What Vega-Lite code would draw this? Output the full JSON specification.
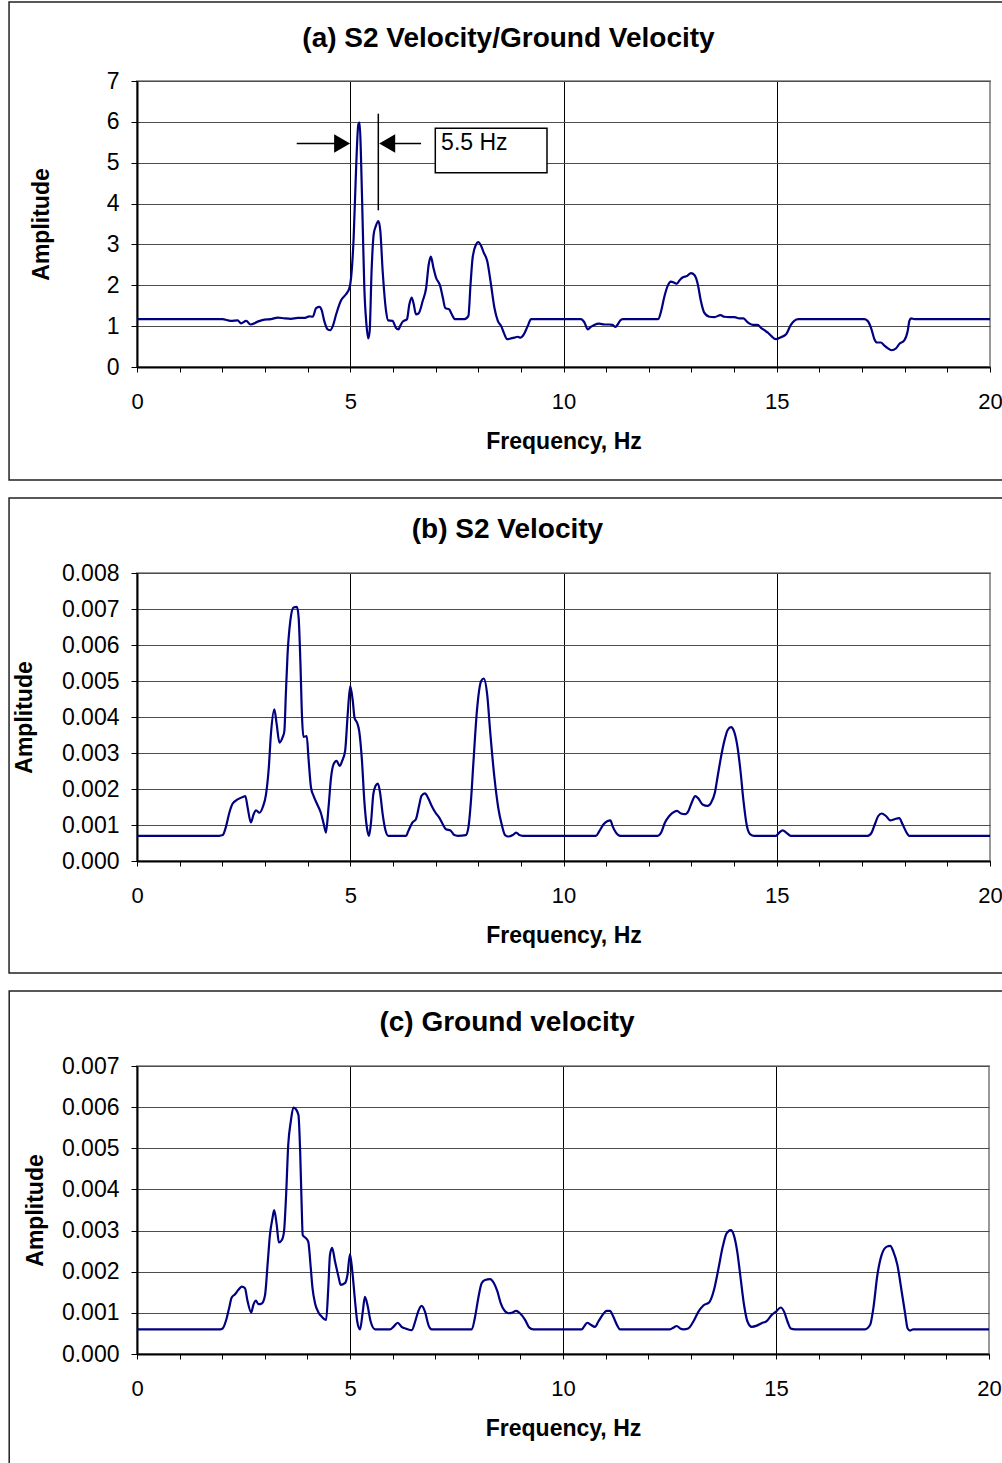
{
  "$schema": "https://vega.github.io/schema/vega-lite/v6.json",
  "background": "white",
  "padding": {"left": 7, "top": 0, "right": 0, "bottom": 0},
  "spacing": 14,
  "config": {
    "view": {"stroke": "#999999", "strokeWidth": 2},
    "font": "Liberation Sans",
    "axis": {"labelFont": "Liberation Sans", "titleFont": "Liberation Sans", "labelColor": "black", "titleColor": "black", "labelFontSize": 22, "titleFontSize": 23, "titleFontWeight": "bold", "tickColor": "black", "domainColor": "black", "domainWidth": 2},
    "axisY": {"labelFontSize": 23, "labelOverlap": false},
    "title": {"font": "Liberation Sans", "fontSize": 28, "fontWeight": "bold", "color": "black", "anchor": "middle"}
  },
  "datasets": {
    "a": [
      {"f":0,"v":1.17},{"f":2.0,"v":1.17},{"f":2.2,"v":1.13},{"f":2.36,"v":1.14},{"f":2.44,"v":1.07},{"f":2.56,"v":1.13},{"f":2.66,"v":1.04},{"f":2.83,"v":1.11},{"f":2.99,"v":1.16},{"f":3.14,"v":1.17},{"f":3.30,"v":1.21},{"f":3.46,"v":1.19},{"f":3.61,"v":1.18},{"f":3.77,"v":1.20},{"f":3.92,"v":1.20},{"f":4.04,"v":1.24},{"f":4.12,"v":1.23},{"f":4.20,"v":1.44},{"f":4.28,"v":1.47},{"f":4.33,"v":1.39},{"f":4.39,"v":1.13},{"f":4.47,"v":0.92},{"f":4.53,"v":0.90},{"f":4.59,"v":1.00},{"f":4.67,"v":1.29},{"f":4.78,"v":1.62},{"f":4.90,"v":1.78},{"f":4.98,"v":1.93},{"f":5.02,"v":2.19},{"f":5.08,"v":3.17},{"f":5.135,"v":4.80},{"f":5.19,"v":5.94},{"f":5.22,"v":5.98},{"f":5.25,"v":5.21},{"f":5.29,"v":3.57},{"f":5.33,"v":1.94},{"f":5.38,"v":1.04},{"f":5.42,"v":0.70},{"f":5.455,"v":0.88},{"f":5.50,"v":2.35},{"f":5.55,"v":3.25},{"f":5.60,"v":3.45},{"f":5.66,"v":3.57},{"f":5.705,"v":3.33},{"f":5.76,"v":2.35},{"f":5.84,"v":1.37},{"f":5.89,"v":1.14},{"f":5.99,"v":1.13},{"f":6.07,"v":0.96},{"f":6.13,"v":0.92},{"f":6.17,"v":1.00},{"f":6.23,"v":1.11},{"f":6.33,"v":1.17},{"f":6.385,"v":1.53},{"f":6.44,"v":1.70},{"f":6.49,"v":1.53},{"f":6.54,"v":1.29},{"f":6.60,"v":1.31},{"f":6.70,"v":1.62},{"f":6.78,"v":1.94},{"f":6.84,"v":2.51},{"f":6.89,"v":2.70},{"f":6.95,"v":2.43},{"f":7.01,"v":2.19},{"f":7.11,"v":1.98},{"f":7.17,"v":1.70},{"f":7.23,"v":1.44},{"f":7.32,"v":1.41},{"f":7.38,"v":1.29},{"f":7.46,"v":1.17},{"f":7.68,"v":1.17},{"f":7.77,"v":1.25},{"f":7.82,"v":2.02},{"f":7.87,"v":2.68},{"f":7.95,"v":3.00},{"f":8.00,"v":3.06},{"f":8.07,"v":2.96},{"f":8.13,"v":2.80},{"f":8.21,"v":2.60},{"f":8.30,"v":2.02},{"f":8.38,"v":1.45},{"f":8.46,"v":1.13},{"f":8.54,"v":1.00},{"f":8.60,"v":0.84},{"f":8.68,"v":0.68},{"f":8.77,"v":0.70},{"f":8.85,"v":0.72},{"f":8.93,"v":0.74},{"f":8.99,"v":0.72},{"f":9.07,"v":0.80},{"f":9.16,"v":1.00},{"f":9.24,"v":1.17},{"f":10.41,"v":1.17},{"f":10.49,"v":1.09},{"f":10.57,"v":0.92},{"f":10.64,"v":0.98},{"f":10.72,"v":1.03},{"f":10.84,"v":1.06},{"f":10.96,"v":1.04},{"f":11.07,"v":1.04},{"f":11.15,"v":1.03},{"f":11.22,"v":0.98},{"f":11.27,"v":1.04},{"f":11.33,"v":1.14},{"f":11.39,"v":1.17},{"f":12.22,"v":1.17},{"f":12.29,"v":1.37},{"f":12.36,"v":1.70},{"f":12.44,"v":1.98},{"f":12.52,"v":2.09},{"f":12.60,"v":2.06},{"f":12.66,"v":2.04},{"f":12.72,"v":2.12},{"f":12.79,"v":2.19},{"f":12.90,"v":2.23},{"f":12.99,"v":2.30},{"f":13.07,"v":2.25},{"f":13.15,"v":2.02},{"f":13.22,"v":1.62},{"f":13.30,"v":1.33},{"f":13.42,"v":1.23},{"f":13.54,"v":1.22},{"f":13.68,"v":1.27},{"f":13.77,"v":1.23},{"f":13.89,"v":1.22},{"f":14.01,"v":1.22},{"f":14.12,"v":1.19},{"f":14.22,"v":1.19},{"f":14.32,"v":1.09},{"f":14.44,"v":1.03},{"f":14.55,"v":1.03},{"f":14.63,"v":0.96},{"f":14.71,"v":0.90},{"f":14.79,"v":0.84},{"f":14.87,"v":0.76},{"f":14.98,"v":0.68},{"f":15.10,"v":0.73},{"f":15.22,"v":0.80},{"f":15.33,"v":1.03},{"f":15.41,"v":1.13},{"f":15.51,"v":1.17},{"f":17.05,"v":1.17},{"f":17.13,"v":1.13},{"f":17.21,"v":0.96},{"f":17.29,"v":0.68},{"f":17.35,"v":0.60},{"f":17.44,"v":0.60},{"f":17.52,"v":0.53},{"f":17.60,"v":0.46},{"f":17.69,"v":0.41},{"f":17.80,"v":0.46},{"f":17.87,"v":0.56},{"f":17.99,"v":0.65},{"f":18.07,"v":0.88},{"f":18.11,"v":1.13},{"f":18.15,"v":1.19},{"f":18.23,"v":1.17},{"f":20,"v":1.17}
    ],
    "b": [
      {"f":0,"v":0.0007},{"f":1.93,"v":0.0007},{"f":2.01,"v":0.00072},{"f":2.09,"v":0.00097},{"f":2.165,"v":0.00134},{"f":2.24,"v":0.00159},{"f":2.36,"v":0.00171},{"f":2.48,"v":0.00178},{"f":2.54,"v":0.0018},{"f":2.595,"v":0.00148},{"f":2.67,"v":0.00107},{"f":2.735,"v":0.0013},{"f":2.79,"v":0.00141},{"f":2.87,"v":0.00134},{"f":2.95,"v":0.0015},{"f":3.025,"v":0.00185},{"f":3.09,"v":0.00259},{"f":3.14,"v":0.00352},{"f":3.22,"v":0.00421},{"f":3.275,"v":0.0038},{"f":3.34,"v":0.00329},{"f":3.415,"v":0.00344},{"f":3.455,"v":0.00361},{"f":3.49,"v":0.00463},{"f":3.53,"v":0.00574},{"f":3.595,"v":0.00667},{"f":3.67,"v":0.00704},{"f":3.75,"v":0.00706},{"f":3.79,"v":0.00676},{"f":3.83,"v":0.00556},{"f":3.87,"v":0.00398},{"f":3.90,"v":0.00345},{"f":3.98,"v":0.00347},{"f":4.02,"v":0.00287},{"f":4.08,"v":0.00204},{"f":4.14,"v":0.00181},{"f":4.22,"v":0.00159},{"f":4.31,"v":0.00134},{"f":4.38,"v":0.00102},{"f":4.43,"v":0.00079},{"f":4.49,"v":0.00148},{"f":4.55,"v":0.00232},{"f":4.61,"v":0.00269},{"f":4.68,"v":0.00278},{"f":4.75,"v":0.00264},{"f":4.81,"v":0.00278},{"f":4.88,"v":0.00306},{"f":4.94,"v":0.00407},{"f":5.00,"v":0.00486},{"f":5.06,"v":0.00444},{"f":5.10,"v":0.00398},{"f":5.16,"v":0.00384},{"f":5.21,"v":0.00361},{"f":5.275,"v":0.00278},{"f":5.33,"v":0.00167},{"f":5.39,"v":0.00093},{"f":5.44,"v":0.0007},{"f":5.49,"v":0.00111},{"f":5.54,"v":0.00185},{"f":5.59,"v":0.00208},{"f":5.65,"v":0.00215},{"f":5.705,"v":0.00185},{"f":5.76,"v":0.0013},{"f":5.82,"v":0.00088},{"f":5.89,"v":0.0007},{"f":6.31,"v":0.0007},{"f":6.36,"v":0.00083},{"f":6.46,"v":0.00107},{"f":6.54,"v":0.00116},{"f":6.62,"v":0.00157},{"f":6.67,"v":0.00181},{"f":6.75,"v":0.00188},{"f":6.83,"v":0.00174},{"f":6.91,"v":0.00153},{"f":7.00,"v":0.00134},{"f":7.09,"v":0.0012},{"f":7.17,"v":0.00102},{"f":7.245,"v":0.00088},{"f":7.35,"v":0.00085},{"f":7.44,"v":0.00072},{"f":7.52,"v":0.0007},{"f":7.71,"v":0.00072},{"f":7.77,"v":0.00093},{"f":7.83,"v":0.00167},{"f":7.89,"v":0.00278},{"f":7.97,"v":0.00417},{"f":8.07,"v":0.005},{"f":8.13,"v":0.00507},{"f":8.21,"v":0.00463},{"f":8.28,"v":0.00361},{"f":8.38,"v":0.00232},{"f":8.47,"v":0.00148},{"f":8.55,"v":0.00102},{"f":8.63,"v":0.00072},{"f":8.71,"v":0.00068},{"f":8.81,"v":0.00072},{"f":8.89,"v":0.00079},{"f":8.965,"v":0.00072},{"f":9.04,"v":0.0007},{"f":10.76,"v":0.0007},{"f":10.84,"v":0.00083},{"f":10.94,"v":0.00102},{"f":11.035,"v":0.00111},{"f":11.10,"v":0.00113},{"f":11.15,"v":0.00097},{"f":11.23,"v":0.00079},{"f":11.33,"v":0.0007},{"f":12.21,"v":0.0007},{"f":12.29,"v":0.00079},{"f":12.38,"v":0.00107},{"f":12.48,"v":0.00125},{"f":12.60,"v":0.00137},{"f":12.66,"v":0.00139},{"f":12.755,"v":0.00132},{"f":12.85,"v":0.0013},{"f":12.93,"v":0.00139},{"f":13.005,"v":0.00162},{"f":13.09,"v":0.0018},{"f":13.16,"v":0.00174},{"f":13.26,"v":0.00157},{"f":13.38,"v":0.00153},{"f":13.46,"v":0.00162},{"f":13.55,"v":0.0019},{"f":13.61,"v":0.00232},{"f":13.69,"v":0.00287},{"f":13.77,"v":0.00333},{"f":13.85,"v":0.00364},{"f":13.93,"v":0.00372},{"f":13.99,"v":0.00363},{"f":14.07,"v":0.00324},{"f":14.15,"v":0.0025},{"f":14.22,"v":0.00167},{"f":14.30,"v":0.00097},{"f":14.38,"v":0.00074},{"f":14.47,"v":0.0007},{"f":14.98,"v":0.0007},{"f":15.06,"v":0.00079},{"f":15.14,"v":0.00085},{"f":15.22,"v":0.00079},{"f":15.33,"v":0.0007},{"f":17.13,"v":0.0007},{"f":17.225,"v":0.00079},{"f":17.30,"v":0.00102},{"f":17.38,"v":0.00125},{"f":17.46,"v":0.00132},{"f":17.56,"v":0.00125},{"f":17.66,"v":0.00113},{"f":17.76,"v":0.00116},{"f":17.87,"v":0.00119},{"f":17.95,"v":0.00102},{"f":18.03,"v":0.00082},{"f":18.11,"v":0.0007},{"f":20,"v":0.0007}
    ],
    "c": [
      {"f":0,"v":0.0006},{"f":1.95,"v":0.0006},{"f":2.01,"v":0.00062},{"f":2.105,"v":0.00087},{"f":2.17,"v":0.00115},{"f":2.22,"v":0.00137},{"f":2.30,"v":0.00145},{"f":2.38,"v":0.00156},{"f":2.46,"v":0.00164},{"f":2.535,"v":0.0016},{"f":2.59,"v":0.00131},{"f":2.68,"v":0.00101},{"f":2.73,"v":0.00119},{"f":2.79,"v":0.0013},{"f":2.85,"v":0.00121},{"f":2.93,"v":0.00123},{"f":3.005,"v":0.00143},{"f":3.07,"v":0.00224},{"f":3.12,"v":0.00289},{"f":3.18,"v":0.0033},{"f":3.22,"v":0.0035},{"f":3.28,"v":0.00314},{"f":3.33,"v":0.00271},{"f":3.40,"v":0.00277},{"f":3.45,"v":0.00297},{"f":3.50,"v":0.00386},{"f":3.55,"v":0.00508},{"f":3.61,"v":0.00565},{"f":3.67,"v":0.00599},{"f":3.73,"v":0.00595},{"f":3.79,"v":0.00581},{"f":3.83,"v":0.00492},{"f":3.865,"v":0.00362},{"f":3.89,"v":0.00289},{"f":3.97,"v":0.00281},{"f":4.02,"v":0.00273},{"f":4.08,"v":0.00208},{"f":4.12,"v":0.0016},{"f":4.18,"v":0.00123},{"f":4.26,"v":0.00101},{"f":4.335,"v":0.00091},{"f":4.44,"v":0.00083},{"f":4.49,"v":0.0016},{"f":4.53,"v":0.00241},{"f":4.58,"v":0.00258},{"f":4.65,"v":0.00224},{"f":4.73,"v":0.00188},{"f":4.78,"v":0.00168},{"f":4.88,"v":0.00172},{"f":4.94,"v":0.00192},{"f":5.00,"v":0.00243},{"f":5.055,"v":0.002},{"f":5.12,"v":0.00127},{"f":5.17,"v":0.00079},{"f":5.235,"v":0.0006},{"f":5.30,"v":0.00103},{"f":5.35,"v":0.00139},{"f":5.41,"v":0.00119},{"f":5.485,"v":0.00079},{"f":5.59,"v":0.0006},{"f":5.94,"v":0.0006},{"f":6.02,"v":0.00066},{"f":6.12,"v":0.00076},{"f":6.21,"v":0.00066},{"f":6.33,"v":0.00061},{"f":6.45,"v":0.00058},{"f":6.53,"v":0.00079},{"f":6.60,"v":0.00103},{"f":6.68,"v":0.00117},{"f":6.76,"v":0.00103},{"f":6.84,"v":0.00071},{"f":6.92,"v":0.0006},{"f":7.86,"v":0.0006},{"f":7.93,"v":0.00087},{"f":8.01,"v":0.00135},{"f":8.09,"v":0.00172},{"f":8.17,"v":0.0018},{"f":8.29,"v":0.00182},{"f":8.38,"v":0.00172},{"f":8.46,"v":0.00152},{"f":8.54,"v":0.00123},{"f":8.615,"v":0.00107},{"f":8.72,"v":0.00099},{"f":8.795,"v":0.001},{"f":8.90,"v":0.00105},{"f":8.99,"v":0.00099},{"f":9.11,"v":0.00083},{"f":9.21,"v":0.00064},{"f":9.30,"v":0.0006},{"f":10.44,"v":0.0006},{"f":10.49,"v":0.00066},{"f":10.57,"v":0.00076},{"f":10.65,"v":0.00071},{"f":10.75,"v":0.00066},{"f":10.83,"v":0.00079},{"f":10.93,"v":0.00095},{"f":11.025,"v":0.00105},{"f":11.10,"v":0.00105},{"f":11.18,"v":0.00091},{"f":11.26,"v":0.00072},{"f":11.34,"v":0.0006},{"f":12.51,"v":0.0006},{"f":12.59,"v":0.00064},{"f":12.67,"v":0.00068},{"f":12.75,"v":0.00062},{"f":12.83,"v":0.0006},{"f":12.94,"v":0.00062},{"f":13.06,"v":0.00079},{"f":13.18,"v":0.00103},{"f":13.295,"v":0.00118},{"f":13.435,"v":0.00126},{"f":13.545,"v":0.00156},{"f":13.65,"v":0.00208},{"f":13.75,"v":0.00261},{"f":13.84,"v":0.00293},{"f":13.94,"v":0.00301},{"f":14.01,"v":0.00289},{"f":14.09,"v":0.00249},{"f":14.17,"v":0.00184},{"f":14.25,"v":0.00119},{"f":14.33,"v":0.00079},{"f":14.43,"v":0.00066},{"f":14.55,"v":0.00069},{"f":14.66,"v":0.00075},{"f":14.78,"v":0.0008},{"f":14.90,"v":0.00095},{"f":15.00,"v":0.00103},{"f":15.11,"v":0.00113},{"f":15.19,"v":0.00103},{"f":15.27,"v":0.00079},{"f":15.345,"v":0.00062},{"f":15.45,"v":0.0006},{"f":17.09,"v":0.0006},{"f":17.21,"v":0.00071},{"f":17.285,"v":0.00111},{"f":17.38,"v":0.00192},{"f":17.48,"v":0.00241},{"f":17.60,"v":0.00261},{"f":17.68,"v":0.00263},{"f":17.755,"v":0.00249},{"f":17.85,"v":0.00216},{"f":17.95,"v":0.00152},{"f":18.03,"v":0.00099},{"f":18.09,"v":0.00062},{"f":18.15,"v":0.00057},{"f":18.22,"v":0.0006},{"f":20,"v":0.0006}
    ]
  },
  "vconcat": [
    {
      "width": 853, "height": 286,
      "title": {"text": "(a) S2 Velocity/Ground Velocity", "dx": -55, "offset": -80, "baseline": "bottom"},
      "layer": [
        {
          "data": {"name": "a"},
          "mark": {"type": "line", "color": "#000080", "strokeWidth": 2.2, "interpolate": "monotone"},
          "encoding": {
            "x": {"field": "f", "type": "quantitative", "scale": {"domain": [0, 20], "nice": false},
              "axis": {"title": "Frequency, Hz", "values": [0,1,2,3,4,5,6,7,8,9,10,11,12,13,14,15,16,17,18,19,20], "tickCount": 40, "format": "d", "labelExpr": "datum.value % 5 === 0 ? datum.label : ''", "labelFlush": false, "labelOverlap": false, "labelPadding": 19, "tickSize": 5, "grid": true, "gridColor": "black", "gridWidth": 1, "gridOpacity": {"condition": {"test": "datum.value % 5 === 0 && datum.value > 0 && datum.value < 20", "value": 1}, "value": 0}, "titlePadding": 18}},
            "y": {"field": "v", "type": "quantitative", "scale": {"domain": [0, 7], "nice": false},
              "axis": {"title": "Amplitude", "values": [0,1,2,3,4,5,6,7], "tickCount": 20, "format": "d", "labelOverlap": false, "labelPadding": 12, "tickSize": 6, "grid": true, "gridColor": "#4d4d4d", "titlePadding": 53}}
          }
        },
        {
          "data": {"values": [{}]},
          "mark": {"type": "rect", "fill": "white", "fillOpacity": 0, "stroke": "#222222", "strokeWidth": 1.5},
          "encoding": {
            "x": {"datum": -3.0, "type": "quantitative", "scale": {"domain": [0, 20], "nice": false}},
            "x2": {"datum": 20.6},
            "y": {"datum": -2.766, "type": "quantitative", "scale": {"domain": [0, 7], "nice": false}},
            "y2": {"datum": 8.934}
          }
        },
        {
          "data": {"values": [{}]},
          "mark": {"type": "rule", "color": "black", "strokeWidth": 1.5},
          "encoding": {
            "x": {"datum": 3.745, "type": "quantitative", "scale": {"domain": [0, 20], "nice": false}},
            "x2": {"datum": 4.75},
            "y": {"datum": 5.47, "type": "quantitative", "scale": {"domain": [0, 7], "nice": false}}
          }
        },
        {
          "data": {"values": [{}]},
          "mark": {"type": "rule", "color": "black", "strokeWidth": 1.5},
          "encoding": {
            "x": {"datum": 5.95, "type": "quantitative", "scale": {"domain": [0, 20], "nice": false}},
            "x2": {"datum": 6.66},
            "y": {"datum": 5.47, "type": "quantitative", "scale": {"domain": [0, 7], "nice": false}}
          }
        },
        {
          "data": {"values": [{}]},
          "mark": {"type": "rule", "color": "black", "strokeWidth": 1.5},
          "encoding": {
            "x": {"datum": 5.658, "type": "quantitative", "scale": {"domain": [0, 20], "nice": false}},
            "y": {"datum": 3.835, "type": "quantitative", "scale": {"domain": [0, 7], "nice": false}},
            "y2": {"datum": 6.2}
          }
        },
        {
          "data": {"values": [{}]},
          "mark": {"type": "point", "shape": "triangle-right", "filled": true, "color": "black", "size": 340, "opacity": 1},
          "encoding": {
            "x": {"datum": 4.809, "type": "quantitative", "scale": {"domain": [0, 20], "nice": false}},
            "y": {"datum": 5.47, "type": "quantitative", "scale": {"domain": [0, 7], "nice": false}}
          }
        },
        {
          "data": {"values": [{}]},
          "mark": {"type": "point", "shape": "triangle-left", "filled": true, "color": "black", "size": 340, "opacity": 1},
          "encoding": {
            "x": {"datum": 5.866, "type": "quantitative", "scale": {"domain": [0, 20], "nice": false}},
            "y": {"datum": 5.47, "type": "quantitative", "scale": {"domain": [0, 7], "nice": false}}
          }
        },
        {
          "data": {"values": [{}]},
          "mark": {"type": "rect", "fill": "white", "stroke": "black", "strokeWidth": 1.5},
          "encoding": {
            "x": {"datum": 6.994, "type": "quantitative", "scale": {"domain": [0, 20], "nice": false}},
            "x2": {"datum": 9.613},
            "y": {"datum": 4.756, "type": "quantitative", "scale": {"domain": [0, 7], "nice": false}},
            "y2": {"datum": 5.842}
          }
        },
        {
          "data": {"values": [{"label": "5.5 Hz"}]},
          "mark": {"type": "text", "align": "left", "baseline": "middle", "fontSize": 23, "font": "Liberation Sans", "color": "black"},
          "encoding": {
            "x": {"datum": 7.13, "type": "quantitative", "scale": {"domain": [0, 20], "nice": false}},
            "y": {"datum": 5.48, "type": "quantitative", "scale": {"domain": [0, 7], "nice": false}},
            "text": {"field": "label"}
          }
        }
      ]
    },
    {
      "width": 853, "height": 288,
      "title": {"text": "(b) S2 Velocity", "dx": -56, "offset": -75, "baseline": "bottom"},
      "layer": [
        {
          "data": {"name": "b"},
          "mark": {"type": "line", "color": "#000080", "strokeWidth": 2.2, "interpolate": "monotone"},
          "encoding": {
            "x": {"field": "f", "type": "quantitative", "scale": {"domain": [0, 20], "nice": false},
              "axis": {"title": "Frequency, Hz", "values": [0,1,2,3,4,5,6,7,8,9,10,11,12,13,14,15,16,17,18,19,20], "tickCount": 40, "format": "d", "labelExpr": "datum.value % 5 === 0 ? datum.label : ''", "labelFlush": false, "labelOverlap": false, "labelPadding": 19, "tickSize": 5, "grid": true, "gridColor": "black", "gridWidth": 1, "gridOpacity": {"condition": {"test": "datum.value % 5 === 0 && datum.value > 0 && datum.value < 20", "value": 1}, "value": 0}, "titlePadding": 18}},
            "y": {"field": "v", "type": "quantitative", "scale": {"domain": [0, 0.008], "nice": false},
              "axis": {"title": "Amplitude", "values": [0,0.001,0.002,0.003,0.004,0.005,0.006,0.007,0.008], "tickCount": 20, "format": ".3f", "labelOverlap": false, "labelPadding": 12, "tickSize": 6, "grid": true, "gridColor": "#4d4d4d", "titlePadding": 25}}
          }
        },
        {
          "data": {"values": [{}]},
          "mark": {"type": "rect", "fill": "white", "fillOpacity": 0, "stroke": "#222222", "strokeWidth": 1.5},
          "encoding": {
            "x": {"datum": -3.0, "type": "quantitative", "scale": {"domain": [0, 20], "nice": false}},
            "x2": {"datum": 20.6},
            "y": {"datum": -0.003111, "type": "quantitative", "scale": {"domain": [0, 0.008], "nice": false}},
            "y2": {"datum": 0.010083}
          }
        }
      ]
    },
    {
      "width": 852, "height": 288,
      "title": {"text": "(c) Ground velocity", "dx": -56, "offset": -75, "baseline": "bottom"},
      "layer": [
        {
          "data": {"name": "c"},
          "mark": {"type": "line", "color": "#000080", "strokeWidth": 2.2, "interpolate": "monotone"},
          "encoding": {
            "x": {"field": "f", "type": "quantitative", "scale": {"domain": [0, 20], "nice": false},
              "axis": {"title": "Frequency, Hz", "values": [0,1,2,3,4,5,6,7,8,9,10,11,12,13,14,15,16,17,18,19,20], "tickCount": 40, "format": "d", "labelExpr": "datum.value % 5 === 0 ? datum.label : ''", "labelFlush": false, "labelOverlap": false, "labelPadding": 19, "tickSize": 5, "grid": true, "gridColor": "black", "gridWidth": 1, "gridOpacity": {"condition": {"test": "datum.value % 5 === 0 && datum.value > 0 && datum.value < 20", "value": 1}, "value": 0}, "titlePadding": 18}},
            "y": {"field": "v", "type": "quantitative", "scale": {"domain": [0, 0.007], "nice": false},
              "axis": {"title": "Amplitude", "values": [0,0.001,0.002,0.003,0.004,0.005,0.006,0.007], "tickCount": 20, "format": ".3f", "labelOverlap": false, "labelPadding": 12, "tickSize": 6, "grid": true, "gridColor": "#4d4d4d", "titlePadding": 14}}
          }
        },
        {
          "data": {"values": [{}]},
          "mark": {"type": "rect", "fill": "white", "fillOpacity": 0, "stroke": "#222222", "strokeWidth": 1.5},
          "encoding": {
            "x": {"datum": -3.0, "type": "quantitative", "scale": {"domain": [0, 20], "nice": false}},
            "x2": {"datum": 20.6},
            "y": {"datum": -0.0029, "type": "quantitative", "scale": {"domain": [0, 0.007], "nice": false}},
            "y2": {"datum": 0.0088225}
          }
        }
      ]
    }
  ]
}
